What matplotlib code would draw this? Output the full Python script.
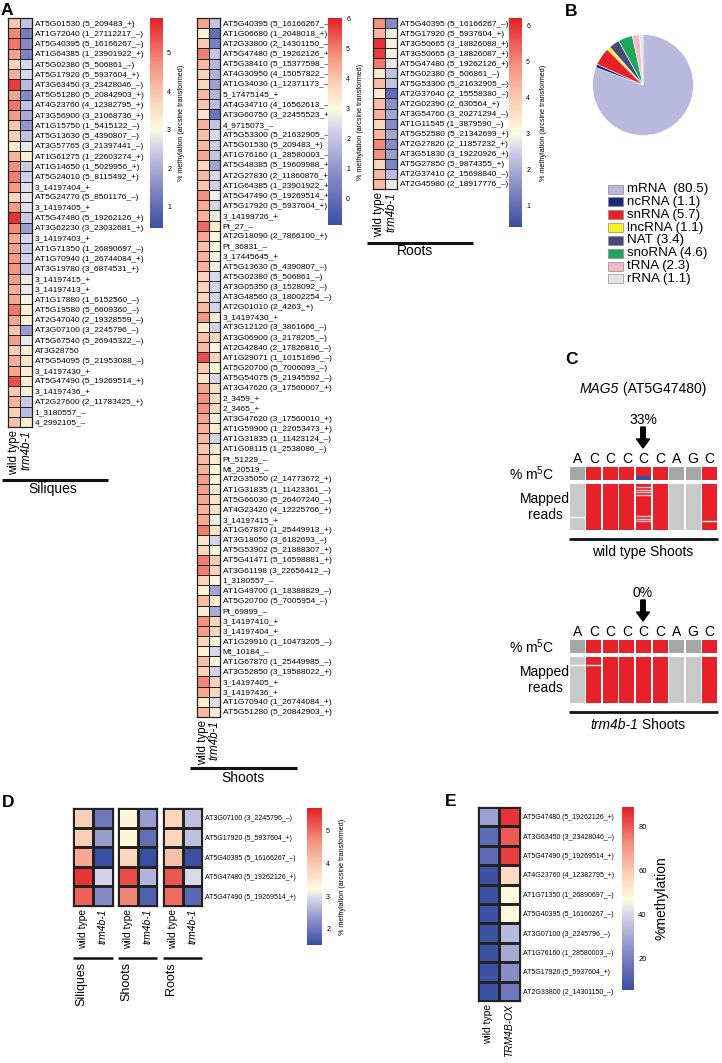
import numpy as np
import matplotlib
matplotlib.use('Agg')
import matplotlib.pyplot as plt
from matplotlib.colors import LinearSegmentedColormap, Normalize
from matplotlib.patches import Rectangle, FancyArrow

plt.rcParams['font.family'] = ['Liberation Sans', 'DejaVu Sans']
plt.rcParams['mathtext.fontset'] = 'custom'
plt.rcParams['mathtext.rm'] = 'Liberation Sans'
plt.rcParams['mathtext.it'] = 'Liberation Sans:italic'

# ---------------- DATA ----------------
siliques_genes = [
    "AT5G01530 (5_209483_+)", "AT1G72040 (1_27112217_–)", "AT5G40395 (5_16166267_–)",
    "AT1G64385 (1_23901922_+)", "AT5G02380 (5_506861_–)", "AT5G17920 (5_5937604_+)",
    "AT3G63450 (3_23428046_–)", "AT5G51280 (5_20842903_+)", "AT4G23760 (4_12382795_+)",
    "AT3G56900 (3_21068736_+)", "AT1G15750 (1_5415122_–)", "AT5G13630 (5_4390807_–)",
    "AT3G57765 (3_21397441_–)", "AT1G61275 (1_22603274_+)", "AT1G14650 (1_5029956_+)",
    "AT5G24010 (5_8115492_+)", "3_14197404_+", "AT5G24770 (5_8501176_–)", "3_14197405_+",
    "AT5G47480 (5_19262126_+)", "AT3G62230 (3_23032681_+)", "3_14197403_+",
    "AT1G71350 (1_26890697_–)", "AT1G70940 (1_26744084_+)", "AT3G19780 (3_6874531_+)",
    "3_14197415_+", "3_14197413_+", "AT1G17880 (1_6152560_–)", "AT5G19580 (5_6609360_–)",
    "AT2G47040 (2_19328559_–)", "AT3G07100 (3_2245796_–)", "AT5G67540 (5_26945322_–)",
    "AT3G28750", "AT5G54095 (5_21953088_–)", "3_14197430_+", "AT5G47490 (5_19269514_+)",
    "3_14197436_+", "AT2G27600 (2_11783425_+)", "1_3180557_–", "4_2992105_–"]
siliques_wt = [3.9, 4.8, 5.0, 4.5, 3.7, 4.3, 5.6, 4.4, 5.0, 4.6, 3.9, 3.8, 3.3, 4.2, 4.7,
               4.9, 4.6, 3.7, 4.6, 5.7, 4.8, 4.4, 4.5, 4.6, 4.7, 4.5, 4.3, 4.4, 5.0, 4.4,
               4.0, 4.5, 3.8, 4.3, 4.4, 5.4, 3.9, 4.2, 3.8, 4.0]
siliques_trm = [2.3, 1.3, 1.5, 1.4, 2.6, 2.6, 2.2, 1.5, 2.3, 2.0, 1.7, 2.3, 2.8, 3.2, 2.4,
                2.5, 2.7, 2.8, 2.7, 2.4, 1.8, 2.6, 2.4, 2.5, 2.4, 2.8, 2.8, 2.9, 3.3, 3.2,
                1.8, 2.8, 3.3, 3.4, 3.3, 3.3, 3.2, 2.4, 2.2, 3.2]

shoots_genes = [
    "AT5G40395 (5_16166267_–)", "AT1G06680 (1_2048018_+)", "AT2G33800 (2_14301150_–)",
    "AT5G47480 (5_19262126_+)", "AT5G38410 (5_15377598_–)", "AT4G30950 (4_15057822_–)",
    "AT1G34030 (1_12371173_–)", "5_17475145_+", "AT4G34710 (4_16562613_–)",
    "AT3G60750 (3_22455523_+)", "4_9715073_–", "AT5G53300 (5_21632905_–)",
    "AT5G01530 (5_209483_+)", "AT1G76160 (1_28580003_–)", "AT5G48385 (5_19609988_+)",
    "AT2G27830 (2_11860876_+)", "AT1G64385 (1_23901922_+)", "AT5G47490 (5_19269514_+)",
    "AT5G17920 (5_5937604_+)", "3_14199726_+", "Pt_27_–", "AT2G18090 (2_7866100_+)",
    "Pt_36831_–", "3_17445645_+", "AT5G13630 (5_4390807_–)", "AT5G02380 (5_506861_–)",
    "AT3G05350 (3_1528092_–)", "AT3G48560 (3_18002254_–)", "AT2G01010 (2_4263_+)",
    "3_14197430_+", "AT3G12120 (3_3861666_–)", "AT3G06900 (3_2178205_–)",
    "AT2G42840 (2_17826816_–)", "AT1G29071 (1_10151696_–)", "AT5G20700 (5_7006093_–)",
    "AT5G54075 (5_21945592_–)", "AT3G47620 (3_17560007_+)", "2_3459_+", "2_3465_+",
    "AT3G47620 (3_17560010_+)", "AT1G59900 (1_22053473_+)", "AT1G31835 (1_11423124_–)",
    "AT1G08115 (1_2538086_–)", "Pt_51229_–", "Mt_20519_–", "AT2G35050 (2_14773672_+)",
    "AT1G31835 (1_11423361_–)", "AT5G66030 (5_26407240_–)", "AT4G23420 (4_12225766_+)",
    "3_14197415_+", "AT1G67870 (1_25449913_+)", "AT3G18050 (3_6182693_–)",
    "AT5G53902 (5_21888307_+)", "AT5G41471 (5_16598881_+)", "AT3G61198 (3_22656412_–)",
    "1_3180557_–", "AT1G49700 (1_18388829_–)", "AT5G20700 (5_7005954_–)", "Pt_69899_–",
    "3_14197410_+", "3_14197404_+", "AT1G29910 (1_10473205_–)", "Mt_10184_–",
    "AT1G67870 (1_25449985_–)", "AT3G52850 (3_19588022_+)", "3_14197405_+",
    "3_14197436_+", "AT1G70940 (1_26744084_+)", "AT5G51280 (5_20842903_+)"]
shoots_wt = [4.5, 3.2, 3.9, 5.0, 4.2, 3.8, 3.7, 4.2, 4.0, 3.4, 4.3, 4.1, 4.2, 4.4, 3.7,
             4.2, 4.0, 4.8, 4.4, 4.3, 5.2, 4.4, 4.1, 4.3, 4.3, 3.8, 3.8, 3.7, 4.2, 4.7,
             3.3, 4.1, 4.2, 5.5, 3.9, 3.4, 4.5, 4.8, 4.8, 4.5, 4.3, 4.2, 4.0, 4.2, 4.3,
             4.6, 4.6, 4.4, 4.3, 4.4, 5.0, 3.4, 3.7, 5.0, 5.0, 3.8, 3.2, 4.2, 3.3, 4.8,
             4.6, 3.7, 3.2, 4.1, 3.8, 4.9, 4.4, 3.3, 4.2]
shoots_trm = [2.0, 0.0, 0.5, 2.0, 1.7, 1.6, 1.2, 1.6, 1.8, 0.2, 2.0, 2.4, 2.2, 2.0, 1.3,
              2.4, 2.2, 2.8, 2.3, 2.8, 3.3, 2.9, 2.9, 2.9, 2.9, 2.4, 2.3, 2.3, 2.3, 3.3,
              2.3, 3.7, 2.9, 3.8, 3.0, 2.4, 3.6, 3.6, 3.6, 2.8, 3.3, 2.3, 3.3, 3.3, 3.0,
              3.0, 3.2, 3.5, 3.4, 2.9, 3.5, 2.3, 2.9, 3.9, 3.8, 2.9, 1.3, 3.3, 1.5, 3.7,
              3.7, 3.0, 2.4, 2.9, 2.3, 3.8, 3.7, 2.5, 3.3]

roots_genes = [
    "AT5G40395 (5_16166267_–)", "AT5G17920 (5_5937604_+)", "AT3G50665 (3_18826088_+)",
    "AT3G50665 (3_18826087_+)", "AT5G47480 (5_19262126_+)", "AT5G02380 (5_506861_–)",
    "AT5G53300 (5_21632905_–)", "AT2G37040 (2_15558380_–)", "AT2G02390 (2_630564_+)",
    "AT3G54760 (3_20271294_–)", "AT1G11545 (1_3879590_–)", "AT5G52580 (5_21342699_+)",
    "AT2G27820 (2_11857232_+)", "AT3G51830 (3_19220926_+)", "AT5G27850 (5_9874355_+)",
    "AT2G37410 (2_15698840_–)", "AT2G45980 (2_18917776_–)"]
roots_wt = [4.9, 4.3, 6.0, 5.9, 5.2, 3.4, 4.2, 3.3, 4.2, 4.4, 3.7, 4.3, 5.0, 4.9, 3.8, 4.3, 4.2]
roots_trm = [1.5, 2.9, 2.9, 2.9, 2.8, 2.3, 2.3, 1.0, 1.6, 1.9, 1.5, 1.9, 1.5, 1.8, 1.4, 2.2, 2.8]

pie_names = ["mRNA ", "ncRNA", "snRNA", "lncRNA", "NAT", "snoRNA", "tRNA", "rRNA"]
pie_values = [80.5, 1.1, 5.7, 1.1, 3.4, 4.6, 2.3, 1.1]
pie_colors = ["#b9b8dd", "#1f2878", "#e8202a", "#f7ee1e", "#4a4876", "#1ea65b", "#f3b9c7", "#e4e4e4"]

mag5_seq = list("ACCCCCAGC")
wt_site_meth = [0, 0, 0, 0, 0.33, 0, 0, 0, 0]
trm_site_meth = [0, 0, 0, 0, 0.0, 0, 0, 0, 0]
wt_read_gaps = {0: [0.71], 4: [0.06, 0.12, 0.17, 0.24, 0.70, 0.75, 0.80], 8: [0.80]}
trm_read_gaps = {0: [0.17], 1: [0.17]}

d_genes = ["AT3G07100 (3_2245796_–)", "AT5G17920 (5_5937604_+)", "AT5G40395 (5_16166267_–)",
           "AT5G47480 (5_19262126_+)", "AT5G47490 (5_19269514_+)"]
d_siliques_wt = [3.9, 3.9, 4.4, 5.5, 5.1]
d_siliques_trm = [2.0, 2.4, 1.5, 2.9, 2.2]
d_shoots_wt = [3.3, 3.3, 3.8, 5.3, 4.8]
d_shoots_trm = [2.4, 1.9, 1.5, 2.6, 1.7]
d_roots_wt = [3.8, 3.8, 4.1, 5.2, 5.0]
d_roots_trm = [2.7, 2.7, 1.5, 2.95, 1.8]
d_groups = ["Siliques", "Shoots", "Roots"]

e_genes = ["AT5G47480 (5_19262126_+)", "AT3G63450 (3_23428046_–)", "AT5G47490 (5_19269514_+)",
           "AT4G23760 (4_12382795_+)", "AT1G71350 (1_26890697_–)", "AT5G40395 (5_16166267_–)",
           "AT3G07100 (3_2245796_–)", "AT1G76160 (1_28580003_–)", "AT5G17920 (5_5937604_+)",
           "AT2G33800 (2_14301150_–)"]
e_wt = [28, 14, 14, 7, 7, 7, 7, 7, 7, 7]
e_ox = [86, 80, 84, 56, 48, 48, 34, 30, 24, 18]

# ---------------- LAYOUT HELPERS ----------------
W, H = 722, 1063
fig = plt.figure(figsize=(W / 100, H / 100), dpi=100)


def rect(x0, y0, x1, y1):
    return [x0 / W, 1 - y1 / H, (x1 - x0) / W, (y1 - y0) / H]


def div_cmap(vmin, vcenter, vmax):
    lo = [(0.0, '#3a4fa2'), (0.45, '#8b8fc8'), (0.85, '#d9d9eb'), (1.0, '#fdfbde')]
    hi = [(0.25, '#fbd5bc'), (0.6, '#f3907c'), (1.0, '#e41f26')]
    nodes = []
    for f, c in lo:
        v = vmin + f * (vcenter - vmin)
        nodes.append(((v - vmin) / (vmax - vmin), c))
    for f, c in hi:
        v = vcenter + f * (vmax - vcenter)
        nodes.append(((v - vmin) / (vmax - vmin), c))
    return LinearSegmentedColormap.from_list('div', nodes)


def heatmap(ax, cols, genes, cmap, norm, label_fs, col_labels, col_fs, italic=(False, True),
            show_rows=True, lw=0.7):
    data = np.column_stack(cols)
    m = ax.pcolormesh(data, cmap=cmap, norm=norm, edgecolors='#222222', linewidth=lw)
    ax.set_xlim(0, data.shape[1])
    ax.set_ylim(len(genes), 0)
    if show_rows:
        ax.set_yticks(np.arange(len(genes)) + 0.5)
        ax.set_yticklabels(genes, fontsize=label_fs)
        ax.yaxis.tick_right()
    else:
        ax.set_yticks([])
    ax.set_xticks(np.arange(data.shape[1]) + 0.5)
    labs = ax.set_xticklabels(col_labels, rotation=90, fontsize=col_fs)
    for t, it in zip(labs, italic):
        if it:
            t.set_style('italic')
    ax.tick_params(length=0, pad=2)
    for s in ax.spines.values():
        s.set_linewidth(0.9)
        s.set_color('#222222')
    return m


def colorbar(m, box, ticks, label, tick_fs, label_fs, labelpad=5):
    cax = fig.add_axes(rect(*box))
    cb = fig.colorbar(m, cax=cax, ticks=ticks)
    cb.outline.set_visible(False)
    cax.tick_params(length=0, labelsize=tick_fs, pad=3)
    cb.set_label(label, fontsize=label_fs, labelpad=labelpad)
    return cb


cb_label = "% methylation (arcsine transformed)"
col_labels = ["wild type", "trm4b-1"]

# ---------------- PANEL A ----------------
vmin, vmax = 0.45, 5.9
norm_s = Normalize(vmin, vmax)
ax = fig.add_axes(rect(8, 18, 32, 427))
m = heatmap(ax, [siliques_wt, siliques_trm], siliques_genes, div_cmap(vmin, 3.0, vmax), norm_s,
            6.0, col_labels, 8.3)
colorbar(m, (150, 18, 163, 228), [1, 2, 3, 4, 5], cb_label, 5, 5.2)

vmin, vmax = -0.9, 6.02
norm_sh = Normalize(vmin, vmax)
ax = fig.add_axes(rect(197, 18, 220, 717))
m = heatmap(ax, [shoots_wt, shoots_trm], shoots_genes, div_cmap(vmin, 3.0, vmax), norm_sh,
            6.0, col_labels, 8.3)
colorbar(m, (328, 18, 342, 225), [0, 1, 2, 3, 4, 5, 6], cb_label, 5, 5.2)

vmin, vmax = 0.39, 6.22
norm_r = Normalize(vmin, vmax)
ax = fig.add_axes(rect(373, 18, 397, 189))
m = heatmap(ax, [roots_wt, roots_trm], roots_genes, div_cmap(vmin, 3.0, vmax), norm_r,
            6.0, col_labels, 8.3)
colorbar(m, (509, 18, 522, 227), [1, 2, 3, 4, 5, 6], cb_label, 5, 5.2, labelpad=7)

# ---------------- PANEL B ----------------
axp = fig.add_axes(rect(580, 22, 706, 148))
axp.pie(pie_values, colors=pie_colors, startangle=90, counterclock=False,
        wedgeprops=dict(edgecolor='white', linewidth=0.4))
axp.set_aspect('equal')

# ---------------- PANEL D ----------------
vmin, vmax = 1.5, 5.7
norm_d = Normalize(vmin, vmax)
cmap_d = div_cmap(vmin, 3.2, vmax)
d_cols = [[d_siliques_wt, d_siliques_trm], [d_shoots_wt, d_shoots_trm], [d_roots_wt, d_roots_trm]]
d_boxes = [(73, 808, 113, 906), (118, 808, 157, 906), (163, 808, 202, 906)]
for i, (cols, box) in enumerate(zip(d_cols, d_boxes)):
    ax = fig.add_axes(rect(*box))
    m = heatmap(ax, cols, d_genes, cmap_d, norm_d, 5.0, col_labels, 7.4,
                show_rows=(i == 2), lw=0.9)
colorbar(m, (307, 808, 322, 945), [2, 3, 4, 5], cb_label, 5, 5.2, labelpad=6)

# ---------------- PANEL E ----------------
vmin, vmax = 5.8, 89
norm_e = Normalize(vmin, vmax)
ax = fig.add_axes(rect(478, 807, 520, 1001))
m = heatmap(ax, [e_wt, e_ox], e_genes, div_cmap(vmin, 47, vmax), norm_e, 5.0,
            ["wild type", "TRM4B-OX"], 7.4, lw=0.9)
colorbar(m, (622, 807, 634, 990), [20, 40, 60, 80], "%methylation", 5.5, 10, labelpad=6)

# ---------------- PANEL C ----------------
RED, GRAY_D, GRAY_L, BLUE = '#e8202a', '#a6a6a6', '#c9c9c9', '#3b4ea3'


def mag5_block(y_letters_top, meth, gaps):
    xs = np.arange(len(mag5_seq))
    # % m5C row
    a1 = fig.add_axes(rect(569, y_letters_top, 718, y_letters_top + 13))
    cols1 = [RED if b == 'C' else GRAY_D for b in mag5_seq]
    a1.bar(xs, 1, width=0.9, color=cols1, edgecolor='none')
    a1.bar(xs, meth, width=0.9, color=BLUE, edgecolor='none')
    a1.set_xlim(-0.5, len(xs) - 0.5)
    a1.set_ylim(0, 1)
    a1.set_xticks(xs)
    a1.set_xticklabels(mag5_seq, fontsize=10)
    a1.xaxis.tick_top()
    a1.tick_params(length=0, pad=1)
    a1.set_yticks([])
    for s in a1.spines.values():
        s.set_visible(False)
    a1.text(-0.1, 0.5, "% m$^5$C", transform=a1.transAxes, ha='right', va='center', fontsize=10)
    # mapped reads
    a2 = fig.add_axes(rect(569, y_letters_top + 17, 718, y_letters_top + 63))
    cols2 = [RED if b == 'C' else GRAY_L for b in mag5_seq]
    a2.bar(xs, 1, width=0.9, color=cols2, edgecolor='none')
    for k, ys in gaps.items():
        lc = '#f4c6c6' if mag5_seq[k] == 'C' and len(ys) > 2 else 'white'
        a2.hlines(ys, k - 0.45, k + 0.45, colors=lc, linewidth=1.0)
    a2.set_xlim(-0.5, len(xs) - 0.5)
    a2.set_ylim(1, 0)
    a2.axis('off')
    a2.text(-0.16, 0.5, "Mapped\nreads", transform=a2.transAxes, ha='center', va='center',
            fontsize=10, multialignment='center', linespacing=1.15)


mag5_block(467, wt_site_meth, wt_read_gaps)
mag5_block(640, trm_site_meth, trm_read_gaps)

# ---------------- OVERLAY (text, lines, arrows) ----------------
ov = fig.add_axes([0, 0, 1, 1])
ov.set_xlim(0, W)
ov.set_ylim(H, 0)
ov.axis('off')

for lbl, (x, y) in zip("ABCDE", [(1, 3), (565, 4), (565, 352), (2, 795), (445, 794)]):
    ov.text(x, y, lbl, fontsize=12.5, fontweight='bold', ha='left', va='top')

# group lines in A
for (x0, x1, y, name, tx, ty) in [(2, 108, 480, "Siliques", 53, 489),
                                  (190, 297, 768, "Shoots", 243, 778),
                                  (367, 473, 243, "Roots", 415, 251)]:
    ov.plot([x0, x1], [y, y], color='#111111', lw=2.2, solid_capstyle='butt')
    ov.text(tx, ty, name, fontsize=10, ha='center', va='center')

# pie legend
for i, (n, v, c) in enumerate(zip(pie_names, pie_values, pie_colors)):
    yc = 189 + i * 12.85
    ov.add_patch(Rectangle((608, yc - 4.5), 15, 9, facecolor=c, edgecolor='#8a8a8a', lw=0.5))
    ov.text(627, yc, f"{n} ({v})", fontsize=9.6, ha='left', va='center')

# panel C texts
ov.text(619, 389, "MAG5", fontsize=10, style='italic', ha='right', va='center')
ov.text(619, 389, " (AT5G47480)", fontsize=10, ha='left', va='center')
for pct, ytxt, yarr in [("33%", 420, 427), ("0%", 593, 600)]:
    ov.text(643, ytxt, pct, fontsize=10, ha='center', va='center')
    ov.add_patch(FancyArrow(643, yarr, 0, 21, width=4.5, head_width=13, head_length=9,
                            length_includes_head=True, color='black'))
for y in (539, 712):
    ov.plot([569, 718], [y, y], color='#111111', lw=2.0, solid_capstyle='butt')
ov.text(643, 552, "wild type Shoots", fontsize=10, ha='center', va='center')
ov.text(638, 725, "trm4b-1", fontsize=10, style='italic', ha='right', va='center')
ov.text(638, 725, " Shoots", fontsize=10, ha='left', va='center')

# panel D group lines and labels
for (x0, y0, x1, y1), name in zip(d_boxes, d_groups):
    ov.plot([x0, x1], [958, 958], color='#111111', lw=1.8, solid_capstyle='butt')
    ov.text(x0 + 8, 962, name, fontsize=9, rotation=90, ha='center', va='top')

fig.savefig('out.png', dpi=100)
